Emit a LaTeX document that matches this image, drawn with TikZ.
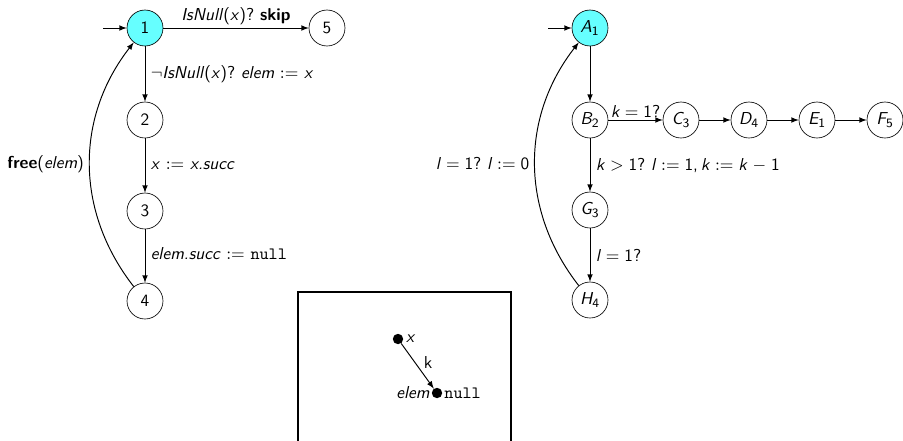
\documentclass[tikz,border=0pt]{standalone}
\usetikzlibrary{arrows}
\renewcommand{\familydefault}{\sfdefault}
\definecolor{cy}{RGB}{102,255,255}
\begin{document}
\frenchspacing
\begin{tikzpicture}[x=0.6253pt,y=-0.6253pt,>=latex,
  every node/.style={font=\fontsize{10.8}{13}\selectfont},
  state/.style={circle,draw,minimum size=22.5pt,inner sep=0pt},
  init/.style={state,fill=cy},
  edge/.style={->,semithick},
  dot/.style={circle,fill,inner sep=0pt,minimum size=6.5pt}]
\useasboundingbox (0,0) rectangle (903,440);
% left automaton
\node[init]  (n1) at (145,28) {1};
\node[state] (n5) at (327,28) {5};
\node[state] (n2) at (145,120) {2};
\node[state] (n3) at (145,211) {3};
\node[state] (n4) at (145,301) {4};
\coordinate (i1) at (103,28);
\draw[edge] (i1) -- (n1);
\draw[edge] (n1) -- node[above,inner sep=2pt] {\textit{IsNull}(\textit{x})? \textbf{skip}} (n5);
\draw[edge] (n1) -- node[right] {$\neg$\textit{IsNull}(\textit{x})? \textit{elem} $:=$ \textit{x}} (n2);
\draw[edge] (n2) -- node[right] {\textit{x} $:=$ \textit{x.succ}} (n3);
\draw[edge] (n3) -- node[right,pos=0.45] {\textit{elem.succ} $:=$ \texttt{null}} (n4);
\draw[edge] (n4) to[bend left=38] node[left,pos=0.5] {\textbf{free}(\textit{elem})} (n1);
% right automaton
\node[init]  (A) at (590,28) {$\textit{A}_{\mathsf{1}}$};
\node[state] (B) at (590,120) {$\textit{B}_{\mathsf{2}}$};
\node[state] (C) at (681,120) {$\textit{C}_{\mathsf{3}}$};
\node[state] (D) at (749,120) {$\textit{D}_{\mathsf{4}}$};
\node[state] (E) at (817,120) {$\textit{E}_{\mathsf{1}}$};
\node[state] (F) at (885,120) {$\textit{F}_{\mathsf{5}}$};
\node[state] (G) at (590,210) {$\textit{G}_{\mathsf{3}}$};
\node[state] (H) at (590,300) {$\textit{H}_{\mathsf{4}}$};
\coordinate (iA) at (548,28);
\draw[edge] (iA) -- (A);
\draw[edge] (A) -- (B);
\draw[edge] (B) -- node[above,inner sep=1pt] {\textit{k}$\;=\;$1?} (C);
\draw[edge] (C) -- (D);
\draw[edge] (D) -- (E);
\draw[edge] (E) -- (F);
\draw[edge] (B) -- node[right] {\textit{k}$\;>\;$1? \textit{l}$\;:=\;$1,\,\textit{k}$\;:=\;$\textit{k}$\;-\;$1} (G);
\draw[edge] (G) -- node[right] {\textit{l}$\;=\;$1?} (H);
\draw[edge] (H) to[bend left=38] node[left,pos=0.5] {\textit{l}$\;=\;$1? \textit{l}$\;:=\;$0} (A);
% heap box
\begin{scope}
\clip (0,0) rectangle (903,440);
\draw[line width=0.7pt] (298,292) rectangle (511,470);
\end{scope}
\node[dot,label={[inner sep=1.5pt]right:\textit{x}}] (px) at (398,339) {};
\node[dot,
  label={[inner sep=1pt]left:\textit{elem}},
  label={[inner sep=1pt]right:\texttt{null}}] (pe) at (437,393) {};
\draw[edge] (px) -- node[pos=0.42,right=2pt] {k} (pe);
\end{tikzpicture}
\end{document}
